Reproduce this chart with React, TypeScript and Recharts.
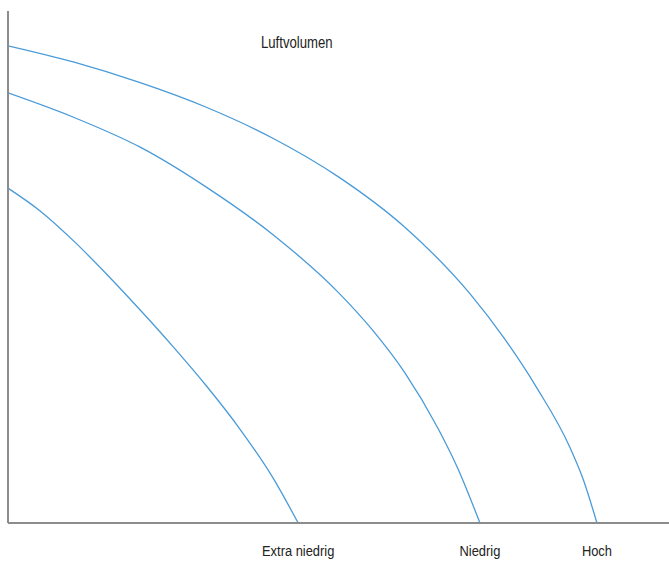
import { LineChart, Line, XAxis, YAxis } from 'recharts';

// air volume (x, % of axis) vs pressure (y, % of axis)
const hoch = [
  { x: 0, y: 93.2 },
  { x: 10, y: 90.0 },
  { x: 20, y: 86.0 },
  { x: 30, y: 81.2 },
  { x: 40, y: 75.2 },
  { x: 50, y: 67.6 },
  { x: 60, y: 57.8 },
  { x: 70, y: 44.6 },
  { x: 75, y: 36.2 },
  { x: 80, y: 26.4 },
  { x: 85, y: 14.8 },
  { x: 87, y: 8.6 },
  { x: 89.1, y: 0 },
];

const niedrig = [
  { x: 0, y: 84.0 },
  { x: 10, y: 79.2 },
  { x: 20, y: 73.4 },
  { x: 30, y: 65.6 },
  { x: 40, y: 56.4 },
  { x: 50, y: 45.0 },
  { x: 55, y: 37.9 },
  { x: 60, y: 29.4 },
  { x: 65, y: 18.6 },
  { x: 68, y: 10.8 },
  { x: 71.4, y: 0 },
];

const extraNiedrig = [
  { x: 0, y: 65.4 },
  { x: 5, y: 60.8 },
  { x: 10, y: 55.0 },
  { x: 15, y: 48.5 },
  { x: 20, y: 41.6 },
  { x: 25, y: 34.4 },
  { x: 30, y: 26.8 },
  { x: 35, y: 18.5 },
  { x: 40, y: 9.0 },
  { x: 43.9, y: 0 },
];

const tickValues = [43.9, 71.4, 89.1];
const tickNames = ['Extra niedrig', 'Niedrig', 'Hoch'];

const FONT = "'Liberation Sans', Arial, sans-serif";
const BLUE = '#4a9bd8';
const AXIS = '#8c8c8c';

function NarrowTick({ x, y, payload }: any) {
  const i = tickValues.indexOf(payload.value);
  return (
    <text
      x={x}
      y={y}
      dy="0.71em"
      textAnchor="middle"
      fill="#222"
      fontSize={15}
      fontFamily={FONT}
      transform={`translate(${x} 0) scale(0.86 1) translate(${-x} 0)`}
    >
      {tickNames[i] ?? ''}
    </text>
  );
}

export default function App() {
  return (
    <div style={{ position: 'absolute', left: 0, top: 0, width: 669, height: 561, background: '#fff' }}>
      <div
        style={{
          position: 'absolute',
          left: 261,
          top: 33,
          fontFamily: FONT,
          fontSize: 16,
          color: '#222',
          lineHeight: '20px',
          transform: 'scaleX(0.82)',
          transformOrigin: 'left center',
          whiteSpace: 'nowrap',
        }}
      >
        Luftvolumen
      </div>
      <LineChart width={669} height={561} margin={{ top: 11, right: 0, bottom: 8, left: 0 }}>
        <XAxis
          dataKey="x"
          type="number"
          domain={[0, 100]}
          ticks={tickValues}
          tick={<NarrowTick />}
          height={30}
          tickLine={false}
          tickMargin={16}
          axisLine={{ stroke: AXIS, strokeWidth: 2 }}
          allowDataOverflow
        />
        <YAxis
          dataKey="y"
          type="number"
          domain={[0, 100]}
          width={8}
          tick={false}
          tickLine={false}
          axisLine={{ stroke: AXIS, strokeWidth: 2 }}
        />
        <Line data={hoch} dataKey="y" type="monotone" stroke={BLUE} strokeWidth={1.3} dot={false} isAnimationActive={false} />
        <Line data={niedrig} dataKey="y" type="monotone" stroke={BLUE} strokeWidth={1.3} dot={false} isAnimationActive={false} />
        <Line data={extraNiedrig} dataKey="y" type="monotone" stroke={BLUE} strokeWidth={1.3} dot={false} isAnimationActive={false} />
      </LineChart>
    </div>
  );
}
